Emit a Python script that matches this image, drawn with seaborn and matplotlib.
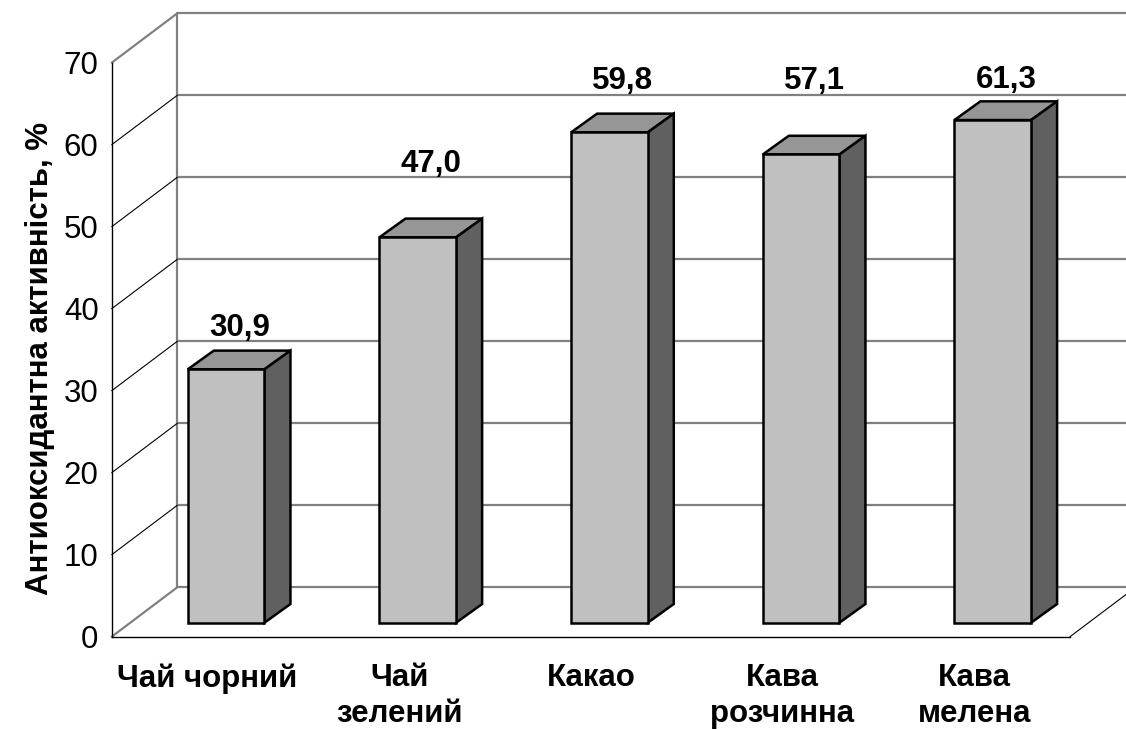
import numpy as np
import matplotlib
matplotlib.use("Agg")
import matplotlib.pyplot as plt
from matplotlib.patches import Polygon
import seaborn as sns

# ---- data ----
categories = ["Чай чорний", "Чай\nзелений", "Какао", "Кава\nрозчинна", "Кава\nмелена"]
values = [30.9, 47.0, 59.8, 57.1, 61.3]
value_labels = ["30,9", "47,0", "59,8", "57,1", "61,3"]
y_ticks = [0, 10, 20, 30, 40, 50, 60, 70]
y_label = "Антиоксидантна активність, %"

# ---- layout (pixels) ----
FIG_W, FIG_H, DPI = 1126, 729, 100
AX_L, AX_R, AX_B, AX_T = 111.7, 1070.0, 636.7, 62.7   # pixel coords (top-origin)
WALL = (65.6, 49.4)        # back wall offset in px (right, up)
BAR_FRONT = (18.6, 14.0)   # bar front plane offset in px
BAR_DEPTH = (26.0, 18.7)   # bar depth in px
LABEL_Y = [37.6, 57.7, 67.8, 67.8, 67.9]   # label centre heights (layout only)
LABEL_DX = 32.0

sns.set_theme(style="white")
plt.rcParams["font.family"] = ["Liberation Sans", "DejaVu Sans"]
plt.rcParams["text.color"] = "black"
plt.rcParams["axes.labelcolor"] = "black"
plt.rcParams["xtick.color"] = "black"
plt.rcParams["ytick.color"] = "black"

fig = plt.figure(figsize=(FIG_W / DPI, FIG_H / DPI), dpi=DPI)
fig.patch.set_facecolor("white")
ax = fig.add_axes([AX_L / FIG_W, (FIG_H - AX_B) / FIG_H,
                   (AX_R - AX_L) / FIG_W, (AX_B - AX_T) / FIG_H])
ax.set_facecolor("none")

n = len(categories)
ymax = 70
ppx = (AX_R - AX_L) / n
ppy = (AX_B - AX_T) / ymax

def dxy(off):
    return off[0] / ppx, off[1] / ppy

wdx, wdy = dxy(WALL)
fdx, fdy = dxy(BAR_FRONT)
ddx, ddy = dxy(BAR_DEPTH)

WALL_C = "#808080"
# back wall gridlines
for v in y_ticks:
    ax.plot([-0.5 + wdx, n - 0.5 + wdx], [v + wdy, v + wdy], color=WALL_C,
            lw=1.6, clip_on=False, zorder=1, solid_capstyle="butt")
# back wall left edge
ax.plot([-0.5 + wdx, -0.5 + wdx], [wdy, ymax + wdy], color=WALL_C, lw=1.6,
        clip_on=False, zorder=1)
# side wall diagonals
for v in y_ticks:
    edge = v in (0, ymax)
    ax.plot([-0.5, -0.5 + wdx], [v, v + wdy], color=WALL_C if edge else "black",
            lw=1.6 if edge else 0.8, clip_on=False, zorder=1)
# floor right edge
ax.plot([n - 0.5, n - 0.5 + wdx], [0, wdy], color="black", lw=0.8,
        clip_on=False, zorder=1)

# bars (front faces) via seaborn
sns.barplot(x=categories, y=values, color="#C0C0C0", edgecolor="black",
            linewidth=1.8, width=0.4, saturation=1, ax=ax, zorder=5)

for i, p in enumerate(ax.patches):
    x0 = p.get_x() + fdx
    w = p.get_width()
    h = p.get_height()
    y0 = p.get_y() + fdy
    p.set_x(x0)
    p.set_y(y0)
    p.set_clip_on(False)
    p.set_zorder(6)
    top = Polygon([(x0, y0 + h), (x0 + w, y0 + h), (x0 + w + ddx, y0 + h + ddy),
                   (x0 + ddx, y0 + h + ddy)], closed=True, facecolor="#969696",
                  edgecolor="black", lw=1.8, clip_on=False, zorder=5,
                  joinstyle="miter")
    side = Polygon([(x0 + w, y0), (x0 + w + ddx, y0 + ddy),
                    (x0 + w + ddx, y0 + h + ddy), (x0 + w, y0 + h)], closed=True,
                   facecolor="#606060", edgecolor="black", lw=1.8, clip_on=False,
                   zorder=5, joinstyle="miter")
    ax.add_patch(top)
    ax.add_patch(side)
    ax.text(i + LABEL_DX / ppx, LABEL_Y[i], value_labels[i], ha="center",
            va="center", fontsize=22.5, fontweight="bold", color="black",
            zorder=7, clip_on=False)

ax.set_xlim(-0.5, n - 0.5)
ax.set_ylim(0, ymax)
ax.set_yticks(y_ticks)
ax.set_yticklabels([str(t) for t in y_ticks], fontsize=22.5)
ax.set_xticks(range(n))
ax.set_xticklabels(categories, fontsize=22.5, fontweight="bold", linespacing=1.26)
ax.set_xticks(np.arange(-0.5, n, 1.0), minor=True)
ax.tick_params(axis="x", which="major", length=0, pad=19)
ax.tick_params(axis="x", which="minor", length=7, width=1, color="black",
               direction="out")
ax.tick_params(axis="y", length=6, width=1, color="black", direction="out",
               pad=3.5)
ax.set_ylabel(y_label, fontsize=22.5, fontweight="bold")
ax.yaxis.set_label_coords(-0.0596, 0.4847)
ax.set_xlabel("")
for s in ["top", "right"]:
    ax.spines[s].set_visible(False)
for s in ["left", "bottom"]:
    ax.spines[s].set_color("black")
    ax.spines[s].set_linewidth(1.0)
    ax.spines[s].set_zorder(2)
ax.grid(False)

fig.savefig("out.png", dpi=DPI, facecolor="white")
